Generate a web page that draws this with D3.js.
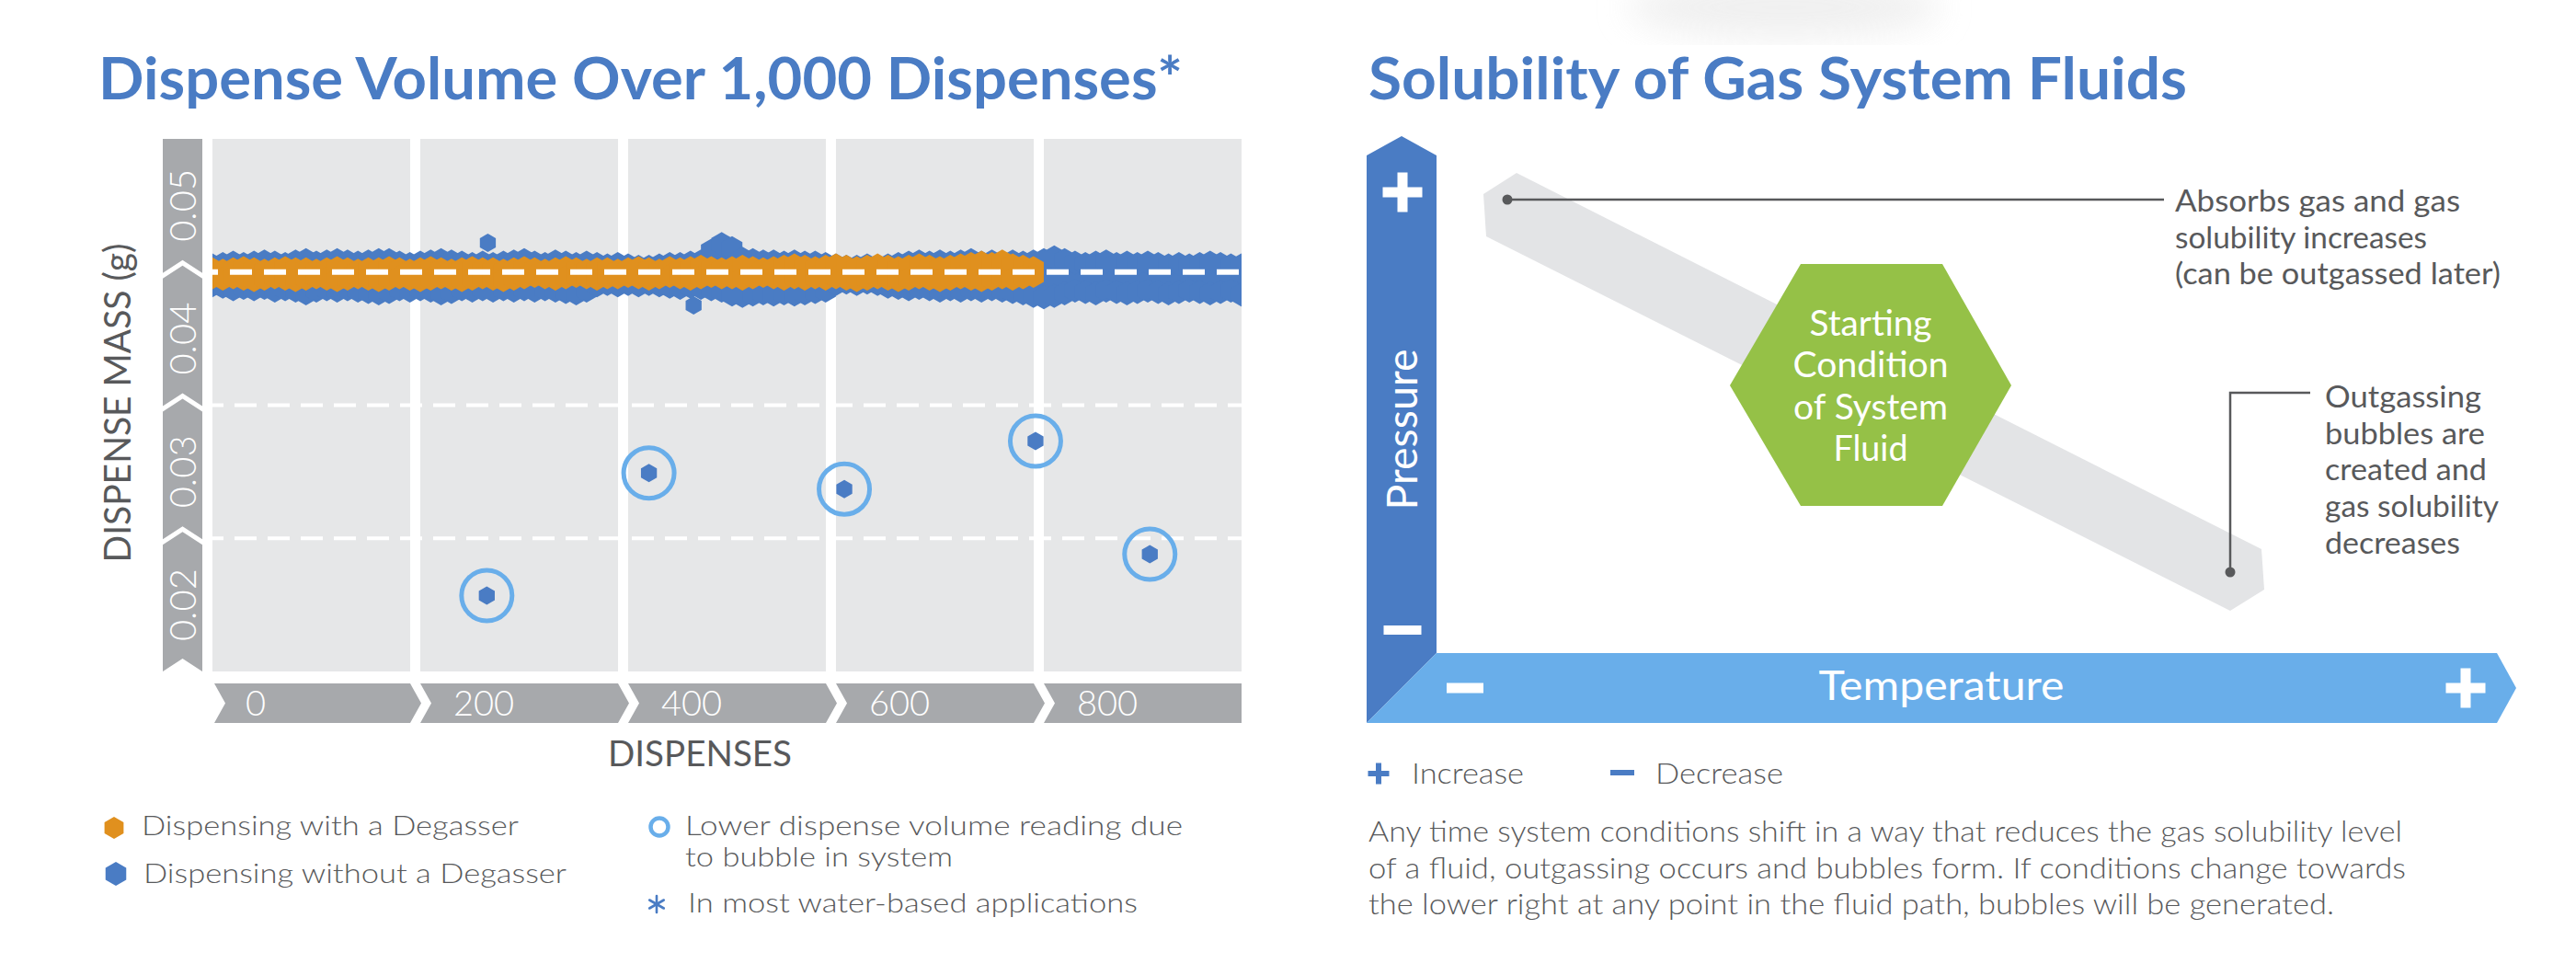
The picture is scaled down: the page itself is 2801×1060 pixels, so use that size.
<!DOCTYPE html>
<html><head><meta charset="utf-8">
<script src="https://cdn.jsdelivr.net/npm/d3@7"></script>
<style>html,body{margin:0;padding:0;background:#fff;} svg{display:block;font-family:Lato,"Open Sans",sans-serif;}</style>
</head><body><svg id="c" width="2801" height="1060"></svg>
<script>
// ---------------- DATA ----------------
const dispenseTicks = [0, 200, 400, 600, 800];
const massBandLabels = [0.05, 0.04, 0.03, 0.02];
const gridMasses = [0.045, 0.035, 0.025];
const meanMass = 0.045;
const sampleStep = 10; // dispenses between envelope readings

// Dispensing without a degasser: upper / lower edge of the point cloud (g), every 10 dispenses 0..1000
const withoutHi = [
 0.0455,0.0456,0.0457,0.0456,0.0457,0.0458,0.0457,0.0456,0.0458,0.0459,
 0.0457,0.0458,0.0459,0.0458,0.0457,0.0458,0.0459,0.0459,0.0457,0.0456,
 0.0457,0.0458,0.0459,0.0458,0.0457,0.0456,0.0457,0.0456,0.0457,0.0458,
 0.0459,0.0457,0.0456,0.0458,0.0457,0.0456,0.0457,0.0456,0.0455,0.0456,
 0.0455,0.0454,0.0454,0.0455,0.0456,0.0456,0.0457,0.0458,0.0466,0.0471,
 0.0468,0.0460,0.0459,0.0458,0.0458,0.0457,0.0458,0.0457,0.0457,0.0456,
 0.0455,0.0454,0.0454,0.0455,0.0454,0.0455,0.0456,0.0457,0.0458,0.0457,
 0.0458,0.0457,0.0458,0.0459,0.0457,0.0458,0.0457,0.0458,0.0457,0.0458,
 0.0459,0.0461,0.0459,0.0457,0.0456,0.0457,0.0458,0.0456,0.0457,0.0456,
 0.0457,0.0456,0.0455,0.0456,0.0455,0.0456,0.0457,0.0456,0.0455,0.0455,
 0.0454];
const withoutLo = [
 0.0440,0.0439,0.0437,0.0438,0.0437,0.0438,0.0436,0.0437,0.0436,0.0434,
 0.0436,0.0437,0.0436,0.0437,0.0436,0.0435,0.0434,0.0435,0.0437,0.0436,
 0.0437,0.0436,0.0434,0.0435,0.0437,0.0436,0.0437,0.0436,0.0437,0.0436,
 0.0437,0.0436,0.0437,0.0436,0.0435,0.0434,0.0436,0.0440,0.0441,0.0440,
 0.0441,0.0440,0.0441,0.0440,0.0439,0.0438,0.0439,0.0438,0.0437,0.0436,
 0.0433,0.0432,0.0433,0.0434,0.0433,0.0434,0.0433,0.0434,0.0435,0.0436,
 0.0441,0.0442,0.0441,0.0442,0.0441,0.0439,0.0438,0.0437,0.0438,0.0437,
 0.0436,0.0437,0.0436,0.0437,0.0436,0.0437,0.0436,0.0435,0.0434,0.0432,
 0.0431,0.0432,0.0434,0.0436,0.0435,0.0434,0.0436,0.0435,0.0434,0.0435,
 0.0436,0.0435,0.0434,0.0435,0.0436,0.0435,0.0434,0.0435,0.0436,0.0433,
 0.0434];
// Dispensing with a degasser: every 10 dispenses 0..790
const withHi = [
 0.0452,0.0451,0.0452,0.0453,0.0452,0.0451,0.0452,0.0453,0.0452,0.0452,
 0.0451,0.0452,0.0453,0.0452,0.0451,0.0452,0.0452,0.0453,0.0452,0.0451,
 0.0452,0.0453,0.0452,0.0451,0.0452,0.0453,0.0452,0.0452,0.0451,0.0452,
 0.0453,0.0452,0.0451,0.0452,0.0453,0.0452,0.0451,0.0452,0.0452,0.0451,
 0.0452,0.0453,0.0452,0.0451,0.0453,0.0452,0.0453,0.0454,0.0453,0.0452,
 0.0453,0.0454,0.0453,0.0452,0.0453,0.0454,0.0455,0.0454,0.0453,0.0454,
 0.0455,0.0454,0.0453,0.0454,0.0455,0.0454,0.0453,0.0454,0.0455,0.0454,
 0.0453,0.0454,0.0455,0.0456,0.0457,0.0456,0.0458,0.0455,0.0454,0.0453];
const withLo = [
 0.0446,0.0445,0.0446,0.0445,0.0444,0.0445,0.0446,0.0445,0.0444,0.0445,
 0.0446,0.0445,0.0444,0.0445,0.0446,0.0445,0.0444,0.0445,0.0446,0.0445,
 0.0444,0.0445,0.0446,0.0445,0.0444,0.0445,0.0446,0.0445,0.0444,0.0445,
 0.0446,0.0447,0.0446,0.0445,0.0446,0.0447,0.0446,0.0445,0.0446,0.0446,
 0.0447,0.0446,0.0445,0.0446,0.0447,0.0446,0.0445,0.0446,0.0447,0.0446,
 0.0446,0.0445,0.0446,0.0447,0.0446,0.0445,0.0446,0.0445,0.0446,0.0445,
 0.0446,0.0445,0.0444,0.0445,0.0446,0.0445,0.0444,0.0445,0.0446,0.0445,
 0.0444,0.0445,0.0446,0.0445,0.0444,0.0445,0.0446,0.0445,0.0446,0.0447];
const strayDispenses = [265, 463];
const strayMasses = [0.0472, 0.0425];
const bubbleDispenses = [264, 420, 608, 792, 902];
const bubbleMasses = [0.0207, 0.0299, 0.0287, 0.0323, 0.0238];

const leftTitle = "Dispense Volume Over 1,000 Dispenses*";
const rightTitle = "Solubility of Gas System Fluids";
const legendLeft = ["Dispensing with a Degasser", "Dispensing without a Degasser"];
const legendRight = ["Lower dispense volume reading due", "to bubble in system", "In most water-based applications"];
const hexLines = ["Starting", "Condition", "of System", "Fluid"];
const topNote = ["Absorbs gas and gas", "solubility increases", "(can be outgassed later)"];
const bottomNote = ["Outgassing", "bubbles are", "created and", "gas solubility", "decreases"];
const paragraph = [
 "Any time system conditions shift in a way that reduces the gas solubility level",
 "of a fluid, outgassing occurs and bubbles form. If conditions change towards",
 "the lower right at any point in the fluid path, bubbles will be generated."];

// ---------------- STYLE ----------------
const BLUE = "#4a7cc4", ORANGE = "#e0901e", LIGHT = "#69aeea", GRAYBAND = "#a7a9ac",
      PANEL = "#e6e7e8", TEXT = "#58595b", GREEN = "#95c147", DIAG = "#e3e4e6";

const svg = d3.select("#c");

function label(parent, o) {
  const t = parent.append("text").text(o.text)
    .attr("font-size", o.size).attr("font-weight", o.weight || 400)
    .attr("fill", o.fill || TEXT).attr("text-anchor", o.anchor || "start");
  if (o.rotate) {
    t.attr("transform", `translate(${o.x},${o.y}) rotate(${o.rotate})`);
  } else {
    t.attr("x", o.x).attr("y", o.y);
  }
  if (o.len) t.attr("textLength", o.len).attr("lengthAdjust", "spacingAndGlyphs");
  return t;
}
function hexPath(cx, cy, r) {
  const p = d3.path();
  for (let k = 0; k < 6; k++) {
    const a = Math.PI / 2 + k * Math.PI / 3;
    const px = cx + r * Math.cos(a), py = cy - r * Math.sin(a);
    k ? p.lineTo(px, py) : p.moveTo(px, py);
  }
  p.closePath();
  return p.toString();
}

// faint smudge at top
const defs = svg.append("defs");
defs.append("filter").attr("id", "blur").append("feGaussianBlur").attr("stdDeviation", 18);
svg.append("ellipse").attr("cx", 1940).attr("cy", 8).attr("rx", 170).attr("ry", 34)
  .attr("fill", "#ececec").attr("filter", "url(#blur)").attr("opacity", 0.8);

// ---------------- LEFT CHART ----------------
label(svg, {text: leftTitle, x: 107, y: 108, size: 64, weight: 700, fill: BLUE, len: 1179});

const x = d3.scaleLinear().domain([0, 1000]).range([231, 1361]);
const y = d3.scaleLinear().domain([0.055, 0.015]).range([151, 730]);
const colGap = 11;
const plotTop = y(0.055), plotBot = y(0.015);

const L = svg.append("g");
L.selectAll("rect.col").data(dispenseTicks).join("rect").attr("class", "col")
  .attr("x", d => x(d)).attr("y", plotTop)
  .attr("width", d => x(d + 200) - x(d) - colGap).attr("height", plotBot - plotTop)
  .attr("fill", PANEL);

L.selectAll("line.grid").data(gridMasses.slice(1)).join("line").attr("class", "grid")
  .attr("x1", x(0)).attr("x2", x(1000) - colGap)
  .attr("y1", d => y(d)).attr("y2", d => y(d))
  .attr("stroke", "#fff").attr("stroke-width", 4).attr("stroke-dasharray", "24 12").attr("stroke-dashoffset", 12);

// y band (chevrons pointing up)
const yb0 = 177, yb1 = 220, ybm = (yb0 + yb1) / 2;
const yBounds = [0.055, ...gridMasses, 0.015];
L.selectAll("path.yband").data(massBandLabels).join("path").attr("class", "yband")
  .attr("d", (v, i) => {
    const T = y(yBounds[i]), B = y(yBounds[i + 1]);
    const last = i === massBandLabels.length - 1;
    const bEdge = last ? B : B + 1;
    const pts = i === 0 ? [[yb0, T], [yb1, T]] : [[yb0, T + 7], [ybm, T - 7], [yb1, T + 7]];
    pts.push([yb1, bEdge], [ybm, bEdge - 14], [yb0, bEdge]);
    return d3.line()(pts) + "Z";
  }).attr("fill", GRAYBAND);
massBandLabels.forEach(v => label(L, {text: v.toFixed(2), x: 213, y: y(v), size: 40, weight: 300,
  fill: "#fff", anchor: "middle", rotate: -90}));

// x band (chevrons pointing right)
const xbT = 743, xbB = 786, xbM = (xbT + xbB) / 2, cd = 12;
L.selectAll("path.xband").data(dispenseTicks).join("path").attr("class", "xband")
  .attr("d", (t, i) => {
    const l = x(t) + (i === 0 ? 2 : 0), r = x(t + 200) - colGap;
    const last = i === dispenseTicks.length - 1;
    const pts = [[l, xbT], [r, xbT], [last ? r : r + cd, xbM], [r, xbB], [l, xbB], [l + cd, xbM]];
    return d3.line()(pts) + "Z";
  }).attr("fill", GRAYBAND);
dispenseTicks.forEach(t => label(L, {text: String(t), x: x(t) + 36, y: 778, size: 38, weight: 300, fill: "#fff"}));

label(L, {text: "DISPENSE MASS (g)", x: 142, y: 438, size: 40, anchor: "middle", rotate: -90, len: 347});
label(L, {text: "DISPENSES", x: 761, y: 833, size: 39, anchor: "middle", len: 200});

// point clouds
defs.append("clipPath").attr("id", "plotclip").append("rect")
  .attr("x", x(0)).attr("y", plotTop).attr("width", x(1000) - colGap - x(0)).attr("height", plotBot - plotTop);
const cloud = L.append("g").attr("clip-path", "url(#plotclip)");
const cloudHex = 13;
function drawCloud(hi, lo, color) {
  const rows = hi.map((h, i) => ({d: i * sampleStep, hi: h, lo: lo[i]}));
  cloud.append("path").datum(rows)
    .attr("d", d3.area().x(r => x(r.d)).y0(r => y(r.lo)).y1(r => y(r.hi)))
    .attr("fill", color);
  const pts = rows.flatMap(r => [{d: r.d, m: r.hi}, {d: r.d, m: r.lo}]);
  cloud.append("g").selectAll("path").data(pts).join("path")
    .attr("d", p => hexPath(x(p.d), y(p.m), cloudHex)).attr("fill", color);
}
drawCloud(withoutHi, withoutLo, BLUE);
drawCloud(withHi, withLo, ORANGE);

// mean line
L.append("line").attr("x1", x(0)).attr("x2", x(1000) - colGap)
  .attr("y1", y(meanMass)).attr("y2", y(meanMass))
  .attr("stroke", "#fff").attr("stroke-width", 6).attr("stroke-dasharray", "24 13").attr("stroke-dashoffset", 18);

L.selectAll("path.stray").data(strayDispenses).join("path").attr("class", "stray")
  .attr("d", (d, i) => hexPath(x(d), y(strayMasses[i]), 10)).attr("fill", BLUE);
L.selectAll("circle.bub").data(bubbleDispenses).join("circle").attr("class", "bub")
  .attr("cx", d => x(d)).attr("cy", (d, i) => y(bubbleMasses[i])).attr("r", 27.5)
  .attr("fill", "none").attr("stroke", LIGHT).attr("stroke-width", 5);
L.selectAll("path.bubpt").data(bubbleDispenses).join("path").attr("class", "bubpt")
  .attr("d", (d, i) => hexPath(x(d), y(bubbleMasses[i]), 10)).attr("fill", BLUE);

// legend
L.append("path").attr("d", hexPath(124, 900, 12)).attr("fill", ORANGE);
L.append("path").attr("d", hexPath(126, 950, 13)).attr("fill", BLUE);
label(L, {text: legendLeft[0], x: 154, y: 908, size: 30, weight: 300, len: 410});
label(L, {text: legendLeft[1], x: 156, y: 960, size: 30, weight: 300, len: 460});
L.append("circle").attr("cx", 717).attr("cy", 899).attr("r", 9.5).attr("fill", "none")
  .attr("stroke", LIGHT).attr("stroke-width", 4.5);
label(L, {text: legendRight[0], x: 745, y: 908, size: 30, weight: 300, len: 541});
label(L, {text: legendRight[1], x: 745, y: 942, size: 30, weight: 300, len: 291});
label(L, {text: legendRight[2], x: 748, y: 992, size: 30, weight: 300, len: 489});
const star = L.append("g").attr("stroke", BLUE).attr("stroke-width", 2.6).attr("stroke-linecap", "round");
[90, 30, 150].forEach(a => {
  const r = 9, rad = a * Math.PI / 180;
  star.append("line").attr("x1", 714 - r * Math.cos(rad)).attr("y1", 983 - r * Math.sin(rad))
    .attr("x2", 714 + r * Math.cos(rad)).attr("y2", 983 + r * Math.sin(rad));
});

// ---------------- RIGHT DIAGRAM ----------------
const R = svg.append("g");
label(R, {text: rightTitle, x: 1488, y: 108, size: 64, weight: 700, fill: BLUE, len: 890});

R.append("path").attr("d", d3.line()([[1613, 211], [1649, 188], [2459, 597], [2462, 641], [2425, 664], [1616, 257]]) + "Z")
  .attr("fill", DIAG);

R.append("line").attr("x1", 1639).attr("y1", 217).attr("x2", 2353).attr("y2", 217)
  .attr("stroke", TEXT).attr("stroke-width", 2.5);
R.append("circle").attr("cx", 1639).attr("cy", 217).attr("r", 5.5).attr("fill", TEXT);
R.append("path").attr("d", d3.line()([[2425, 622], [2425, 427], [2512, 427]]))
  .attr("fill", "none").attr("stroke", TEXT).attr("stroke-width", 2.5);
R.append("circle").attr("cx", 2425).attr("cy", 622).attr("r", 5.5).attr("fill", TEXT);

const topLens = [310, 274, 354], topBase = [230, 270, 309];
topNote.forEach((s, i) => label(R, {text: s, x: 2365, y: topBase[i], size: 33, len: topLens[i]}));
const botLens = [170, 174, 176, 189, 147], botBase = [443, 483, 522, 562, 602];
bottomNote.forEach((s, i) => label(R, {text: s, x: 2528, y: botBase[i], size: 33, len: botLens[i]}));

R.append("path").attr("d", d3.line()([[1958, 287], [2112, 287], [2187, 419], [2112, 550], [1958, 550], [1881, 419]]) + "Z")
  .attr("fill", GREEN);
const hexLens = [133, 169, 168, 81], hexBase = [365, 410, 456, 501];
hexLines.forEach((s, i) => label(R, {text: s, x: 2034, y: hexBase[i], size: 38, fill: "#fff", anchor: "middle", len: hexLens[i]}));

R.append("path").attr("d", d3.line()([[1486, 169], [1524, 148], [1562, 169], [1562, 710], [1486, 786]]) + "Z")
  .attr("fill", BLUE);
R.append("path").attr("d", d3.line()([[1486, 786], [1562, 710], [2715, 710], [2736, 748], [2715, 786]]) + "Z")
  .attr("fill", LIGHT);
function plus(g, cx, cy, s, w, color) {
  g.append("rect").attr("x", cx - s / 2).attr("y", cy - w / 2).attr("width", s).attr("height", w).attr("fill", color);
  g.append("rect").attr("x", cx - w / 2).attr("y", cy - s / 2).attr("width", w).attr("height", s).attr("fill", color);
}
function minus(g, cx, cy, s, w, color) {
  g.append("rect").attr("x", cx - s / 2).attr("y", cy - w / 2).attr("width", s).attr("height", w).attr("fill", color);
}
plus(R, 1525, 209, 43, 11, "#fff");
minus(R, 1525, 685, 41, 10, "#fff");
minus(R, 1593, 748, 40, 11, "#fff");
plus(R, 2681, 748, 43, 11, "#fff");
label(R, {text: "Pressure", x: 1541, y: 467, size: 46, fill: "#fff", anchor: "middle", rotate: -90, len: 175});
label(R, {text: "Temperature", x: 2111, y: 761, size: 44, fill: "#fff", anchor: "middle", len: 267});

plus(R, 1499, 841, 23, 6, BLUE);
label(R, {text: "Increase", x: 1535, y: 852, size: 31, weight: 300, len: 122});
minus(R, 1764, 840, 26, 6, BLUE);
label(R, {text: "Decrease", x: 1800, y: 852, size: 31, weight: 300, len: 139});
const paraLens = [1124, 1128, 1050], paraBase = [915, 955, 994];
paragraph.forEach((s, i) => label(R, {text: s, x: 1488, y: paraBase[i], size: 31, weight: 300, len: paraLens[i]}));
</script>
</body></html>
